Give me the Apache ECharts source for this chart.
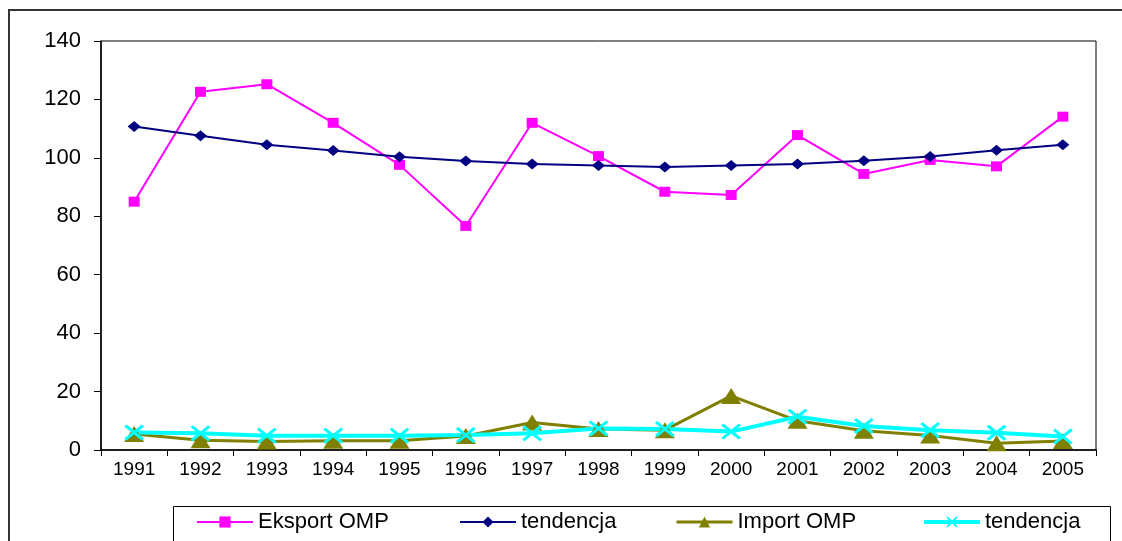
<!DOCTYPE html>
<html>
<head>
<meta charset="utf-8">
<script src="https://cdn.jsdelivr.net/npm/echarts@6/dist/echarts.min.js"></script>
<style>
  html, body { margin: 0; padding: 0; background: #fff; }
  #chart { width: 1122px; height: 541px; }
</style>
</head>
<body>
<div id="chart"></div>
<script>
var myChart = echarts.init(document.getElementById('chart'));

// lata i wartości
var years = ['1991', '1992', '1993', '1994', '1995', '1996', '1997', '1998',
  '1999', '2000', '2001', '2002', '2003', '2004', '2005'];
var eksport = [85, 122.6, 125.2, 112, 97.6, 76.7, 112, 100.6, 88.4, 87.3, 107.8, 94.5, 99.3, 97.1, 114.1];
var eksportTrend = [110.7, 107.6, 104.5, 102.5, 100.4, 98.9, 97.9, 97.4, 96.9, 97.4, 97.9, 99.0, 100.5, 102.6, 104.5];
var importOmp = [5.5, 3.3, 2.9, 3.2, 3.2, 4.8, 9.4, 7.2, 6.8, 18.5, 10, 6.6, 5.0, 2.3, 3.1];
var importTrend = [6.0, 5.7, 4.9, 4.9, 4.9, 5.1, 5.7, 7.4, 7.2, 6.3, 11.4, 8.2, 6.8, 5.9, 4.6];
var yTicks = { min: 0, max: 140, step: 20 };

var FONT = 'Liberation Sans, Arial, sans-serif';
var crossPath = 'path://M0,0.12 L0.12,0 L0.5,0.38 L0.88,0 L1,0.12 L0.62,0.5 L1,0.88 L0.88,1 L0.5,0.62 L0.12,1 L0,0.88 L0.38,0.5 Z';

function legendAt(left, name, lineWidth) {
  return {
    data: [name],
    left: left,
    top: 511,
    padding: 0,
    itemWidth: 56,
    itemHeight: 14,
    itemGap: 0,
    selectedMode: false,
    lineStyle: { width: lineWidth },
    formatter: function (n) { return n.indexOf('tendencja') === 0 ? 'tendencja' : n; },
    textStyle: { fontFamily: FONT, fontSize: 22, color: '#000' }
  };
}

var option = {
  animation: false,
  backgroundColor: '#fff',
  textStyle: { fontFamily: FONT },
  graphic: [
    { type: 'polyline', shape: { points: [[9, 700], [9, 10], [1300, 10]] },
      style: { fill: 'none', stroke: '#333', lineWidth: 2 }, silent: true },
    { type: 'rect', shape: { x: 173.5, y: 506.5, width: 937, height: 60 },
      style: { fill: '#fff', stroke: '#000', lineWidth: 1 }, silent: true, z: -1 }
  ],
  legend: [
    legendAt(196, 'Eksport OMP', 2),
    legendAt(459, 'tendencja eksportu', 2),
    legendAt(675, 'Import OMP', 3),
    legendAt(922, 'tendencja importu', 4)
  ],
  grid: {
    left: 101, top: 41, right: 26, bottom: 91,
    show: true, borderColor: '#000', borderWidth: 1
  },
  xAxis: {
    type: 'category',
    data: years,
    boundaryGap: true,
    axisLine: { lineStyle: { color: '#000', width: 1.5 } },
    axisTick: { show: true, length: 6, lineStyle: { color: '#000' } },
    axisLabel: { color: '#000', fontSize: 19, fontFamily: FONT, margin: 10 },
    splitLine: { show: false }
  },
  yAxis: {
    type: 'value',
    min: yTicks.min,
    max: yTicks.max,
    interval: yTicks.step,
    axisLine: { show: true, lineStyle: { color: '#000', width: 1.5 } },
    axisTick: { show: true, length: 7, lineStyle: { color: '#000' } },
    axisLabel: { color: '#000', fontSize: 22, fontFamily: FONT, margin: 20 },
    splitLine: { show: false }
  },
  series: [
    {
      name: 'Eksport OMP', type: 'line', data: eksport,
      symbol: 'rect', symbolSize: [11, 10],
      lineStyle: { color: '#FF00FF', width: 2 },
      itemStyle: { color: '#FF00FF' }
    },
    {
      name: 'tendencja eksportu', type: 'line', data: eksportTrend,
      symbol: 'diamond', symbolSize: [13, 11],
      lineStyle: { color: '#000080', width: 2 },
      itemStyle: { color: '#000080' }
    },
    {
      name: 'Import OMP', type: 'line', data: importOmp,
      symbol: 'triangle', symbolSize: [20, 16],
      lineStyle: { color: '#808000', width: 3 },
      itemStyle: { color: '#808000' }
    },
    {
      name: 'tendencja importu', type: 'line', data: importTrend,
      symbol: crossPath, symbolSize: [20, 16], symbolKeepAspect: false,
      lineStyle: { color: '#00FFFF', width: 4 },
      itemStyle: { color: '#00FFFF' }
    }
  ]
};

myChart.setOption(option);
</script>
</body>
</html>
